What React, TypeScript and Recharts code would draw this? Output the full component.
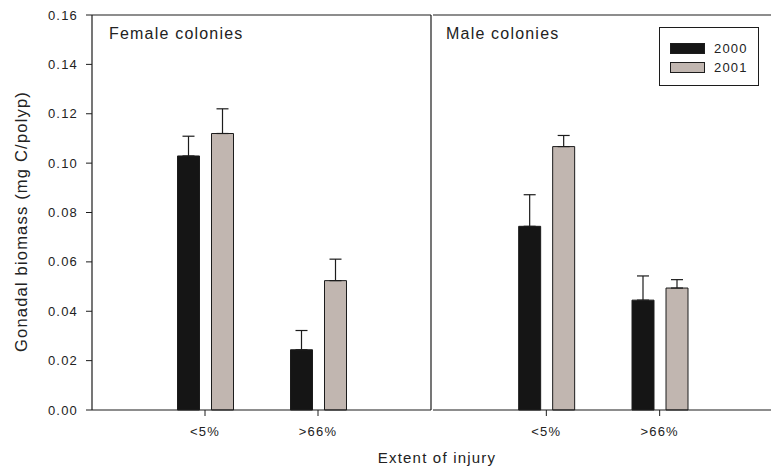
import React from "react";
import { BarChart, Bar, XAxis, YAxis, ErrorBar, ReferenceLine } from "recharts";

const categories = ["<5%", ">66%"];
const seriesNames = ["2000", "2001"];

const femaleMean2000 = [0.1029, 0.0244];
const femaleErr2000 = [0.008, 0.0078];
const femaleMean2001 = [0.112, 0.0524];
const femaleErr2001 = [0.01, 0.0087];

const maleMean2000 = [0.0744, 0.0445];
const maleErr2000 = [0.0128, 0.0098];
const maleMean2001 = [0.1067, 0.0494];
const maleErr2001 = [0.0045, 0.0034];

const yTicks = [0, 0.02, 0.04, 0.06, 0.08, 0.1, 0.12, 0.14, 0.16];
const xTicks = [1, 2];

const COLORS = { y2000: "#151515", y2001: "#c1b6b0", line: "#1c1c1c", text: "#222" };
const FONT = "'Liberation Sans', Arial, sans-serif";

function buildData(m0: number[], e0: number[], m1: number[], e1: number[]) {
  return categories.map((c, i) => ({
    pos: i + 1,
    label: c,
    y2000: m0[i],
    e2000: [0, e0[i]],
    y2001: m1[i],
    e2001: [0, e1[i]],
  }));
}

const femaleData = buildData(femaleMean2000, femaleErr2000, femaleMean2001, femaleErr2001);
const maleData = buildData(maleMean2000, maleErr2000, maleMean2001, maleErr2001);

const tickStyle = { fontSize: 13, fill: COLORS.text, fontFamily: FONT };

function bars() {
  return [
    <Bar key="a" dataKey="y2000" fill={COLORS.y2000} stroke={COLORS.line} strokeWidth={1} isAnimationActive={false}>
      <ErrorBar dataKey="e2000" width={6} stroke={COLORS.line} strokeWidth={1.2} isAnimationActive={false} />
    </Bar>,
    <Bar key="b" dataKey="y2001" fill={COLORS.y2001} stroke={COLORS.line} strokeWidth={1} isAnimationActive={false}>
      <ErrorBar dataKey="e2001" width={6} stroke={COLORS.line} strokeWidth={1.2} isAnimationActive={false} />
    </Bar>,
  ];
}

function xAxis() {
  return (
    <XAxis
      type="number"
      dataKey="pos"
      domain={[0, 3]}
      ticks={xTicks}
      tickFormatter={(v: number) => categories[v - 1]}
      tick={tickStyle}
      tickSize={6}
      tickMargin={11}
      height={30}
      axisLine={{ stroke: COLORS.line, strokeWidth: 1.2 }}
      tickLine={{ stroke: COLORS.line }}
      allowDecimals={false}
    />
  );
}

function Legend2() {
  const swatches = [COLORS.y2000, COLORS.y2001];
  return (
    <div
      style={{
        position: "absolute", left: 659, top: 27, width: 100, height: 59,
        border: `1px solid ${COLORS.line}`, background: "#fff", boxSizing: "border-box",
        fontSize: 13, color: COLORS.text,
      }}
    >
      {seriesNames.map((n, i) => (
        <div key={n} style={{ position: "absolute", left: 10, top: 14 + i * 19, height: 12, display: "flex", alignItems: "center" }}>
          <span style={{ display: "inline-block", width: 35, height: 11, background: swatches[i], border: `1px solid ${COLORS.line}`, boxSizing: "border-box" }} />
          <span style={{ marginLeft: 9 }}>{n}</span>
        </div>
      ))}
    </div>
  );
}

export default function App() {
  return (
    <div
      style={{
        position: "absolute", left: 0, top: 0, width: 771, height: 469, overflow: "hidden",
        background: "#fff", fontFamily: FONT, letterSpacing: "1.2px",
      }}
    >
      <div style={{ position: "absolute", left: 0, top: 0 }}>
        <BarChart width={771} height={469} data={femaleData} barSize={22} barGap={12}
          margin={{ top: 15, right: 340, bottom: 29, left: 0 }}>
          {xAxis()}
          <YAxis
            domain={[0, 0.16]}
            ticks={yTicks}
            tickFormatter={(v: number) => v.toFixed(2)}
            width={92}
            tick={tickStyle}
            tickSize={6}
            tickMargin={8}
            axisLine={{ stroke: COLORS.line, strokeWidth: 1.2 }}
            tickLine={{ stroke: COLORS.line }}
            label={{
              value: "Gonadal biomass (mg C/polyp)", angle: -90, position: "center", dx: -25, dy: 9,
              style: { fontSize: 16.5, fill: COLORS.text, fontFamily: FONT },
            }}
          />
          <ReferenceLine y={0.16} stroke={COLORS.line} strokeWidth={1.2} />
          <ReferenceLine x={3} stroke={COLORS.line} strokeWidth={1.2} />
          {bars()}
          <text x={109} y={39} fontSize={16} fill={COLORS.text} fontFamily={FONT}>Female colonies</text>
          <text x={437} y={463} fontSize={15} fill={COLORS.text} fontFamily={FONT} textAnchor="middle">Extent of injury</text>
        </BarChart>
      </div>
      <div style={{ position: "absolute", left: 0, top: 0 }}>
        <BarChart width={773} height={469} data={maleData} barSize={22} barGap={12}
          margin={{ top: 15, right: 0, bottom: 29, left: 433 }}>
          {xAxis()}
          <YAxis hide domain={[0, 0.16]} ticks={yTicks} />
          <ReferenceLine y={0.16} stroke={COLORS.line} strokeWidth={1.2} />
          {bars()}
          <text x={446} y={39} fontSize={16} fill={COLORS.text} fontFamily={FONT}>Male colonies</text>
        </BarChart>
      </div>
      <Legend2 />
    </div>
  );
}
